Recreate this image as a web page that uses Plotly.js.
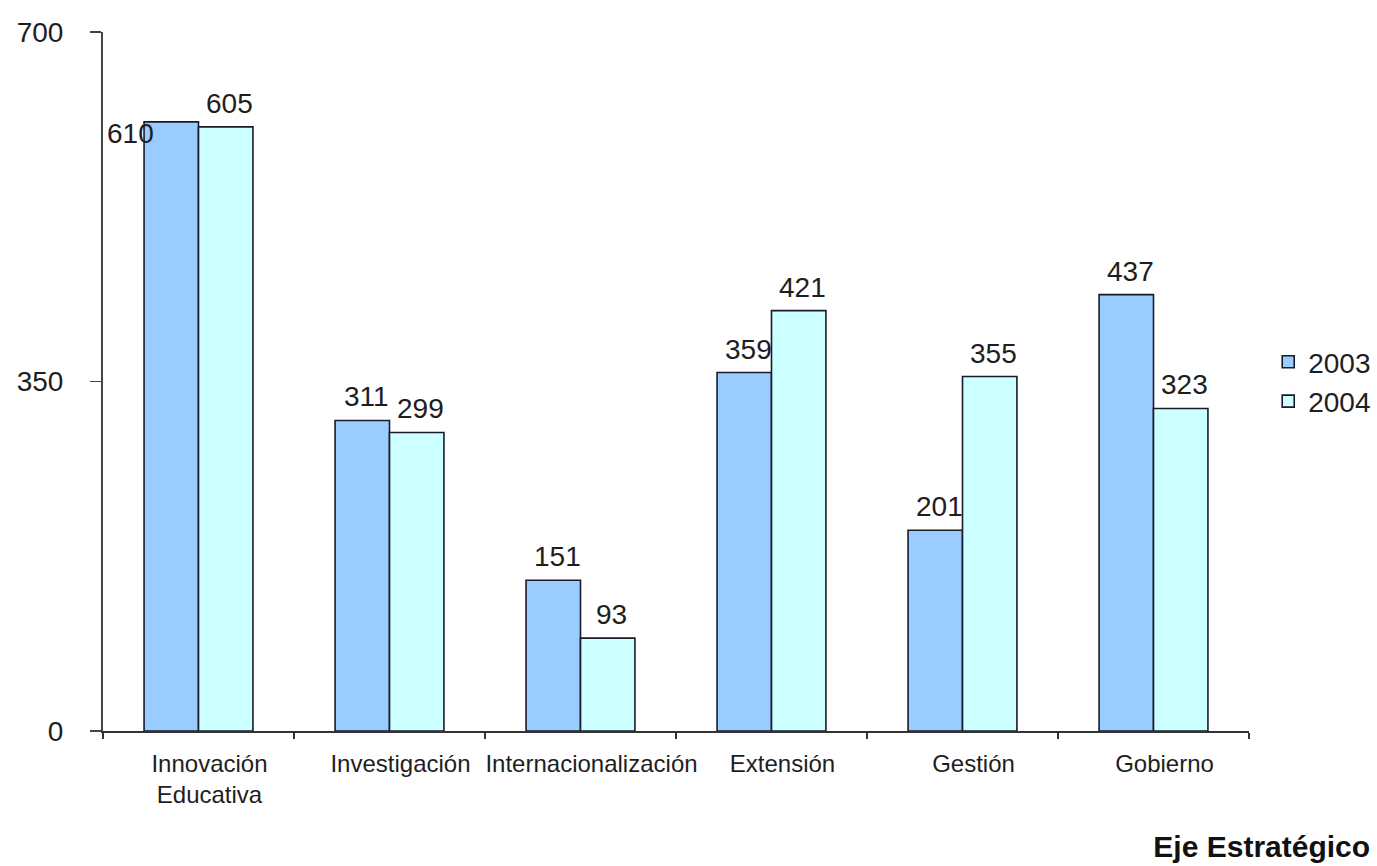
<!DOCTYPE html>
<html>
<head>
<meta charset="utf-8">
<script src="https://cdn.plot.ly/plotly-3.0.1.min.js"></script>
<style>
  html, body { margin: 0; padding: 0; background: #ffffff; }
  #chart { width: 1377px; height: 866px; }
</style>
</head>
<body>
<div id="chart"></div>
<script>
// ---- data ----
const categories = ["Innovación<br>Educativa", "Investigación", "Internacionalización", "Extensión", "Gestión", "Gobierno"];
const values2003 = [610, 311, 151, 359, 201, 437];
const values2004 = [605, 299, 93, 421, 355, 323];
const seriesNames = ["2003", "2004"];
const yTickValues = [0, 350, 700];

// ---- styles ----
const BARGAP = 0.43;
const colors = ["#99ccff", "#ccffff"];
const outline = "#1a1a2a";
const textColor = "#1e1e1e";

const traces = [values2003, values2004].map((vals, k) => ({
  type: "bar",
  name: seriesNames[k],
  x: categories,
  y: vals,
  marker: { color: colors[k], line: { color: outline, width: 1.6 } },
  hoverinfo: "x+y+name"
}));

// data labels, placed above each bar through the axis scales
const annotations = [];
const half = (1 - BARGAP) / 4;
[values2003, values2004].forEach((vals, k) => {
  vals.forEach((v, i) => {
    const ann = {
      x: i + (k === 0 ? -half : half),
      y: v,
      xref: "x", yref: "y",
      text: String(v),
      showarrow: false,
      xanchor: "center",
      yanchor: "bottom",
      xshift: 4,
      yshift: 6,
      font: { family: "Arial, 'Liberation Sans', sans-serif", size: 28, color: textColor }
    };
    // the first 2003 label sits to the left, overlapping the bar edge
    if (k === 0 && i === 0) {
      ann.xshift = -41;
      ann.yanchor = "middle";
      ann.yshift = -12;
    }
    annotations.push(ann);
  });
});

const layout = {
  width: 1377,
  height: 866,
  margin: { l: 103, r: 128, t: 32, b: 135 },
  paper_bgcolor: "#ffffff",
  plot_bgcolor: "#ffffff",
  font: { family: "Arial, 'Liberation Sans', sans-serif", color: textColor },
  barmode: "group",
  bargap: BARGAP,
  bargroupgap: 0,
  showlegend: true,
  legend: {
    xref: "container", yref: "paper",
    x: 0.921, xanchor: "left",
    y: 0.50, yanchor: "middle",
    font: { size: 28, color: textColor },
    bgcolor: "rgba(0,0,0,0)",
    tracegroupgap: 0
  },
  title: {
    text: "<b>Eje Estratégico</b>",
    xref: "container", yref: "container",
    x: 0.995, xanchor: "right",
    y: 0.022, yanchor: "middle",
    font: { size: 30, color: "#111111" }
  },
  xaxis: {
    type: "category",
    showline: true,
    linecolor: "#333333",
    linewidth: 2,
    ticks: "outside",
    tickson: "boundaries",
    ticklen: 6,
    tickwidth: 1.5,
    tickcolor: "#333333",
    showgrid: false,
    zeroline: false,
    ticklabelstandoff: 10,
    ticklabelshift: 11,
    tickfont: { size: 24, color: textColor },
    tickangle: 0
  },
  yaxis: {
    range: [0, 700],
    tickvals: yTickValues,
    ticktext: yTickValues.map(String),
    showline: true,
    linecolor: "#444444",
    linewidth: 2,
    ticks: "outside",
    ticklen: 11,
    tickwidth: 1.5,
    tickcolor: "#444444",
    showgrid: false,
    zeroline: false,
    ticklabelstandoff: 21,
    tickfont: { size: 28, color: textColor }
  },
  annotations: annotations
};

Plotly.newPlot("chart", traces, layout, { displayModeBar: false, staticPlot: true });
</script>
</body>
</html>
